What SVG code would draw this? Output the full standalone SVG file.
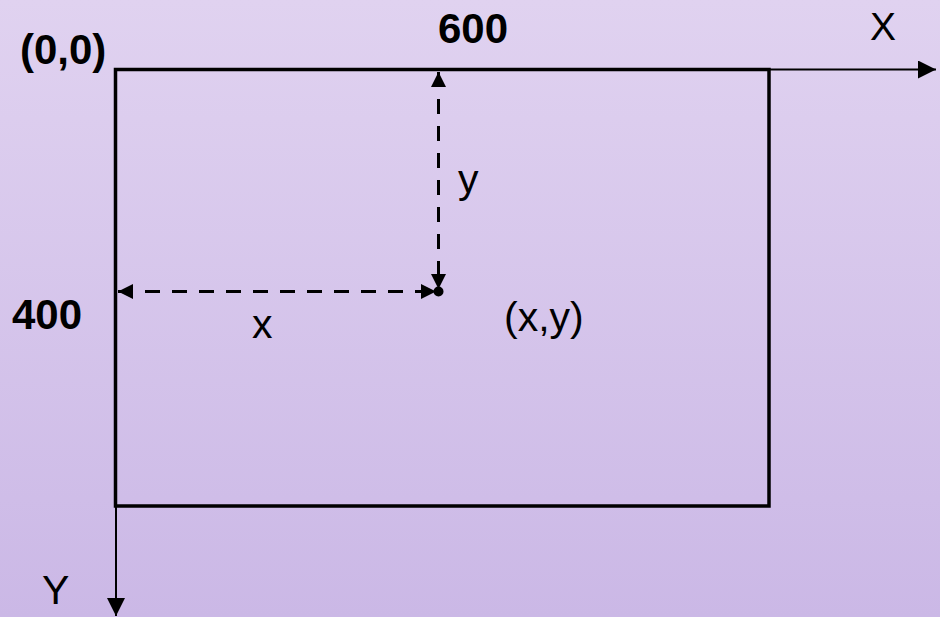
<svg xmlns="http://www.w3.org/2000/svg" width="940" height="617" viewBox="0 0 940 617">
<defs>
<linearGradient id="bg" x1="0" y1="0" x2="0" y2="1">
<stop offset="0" stop-color="#e0d2f0"/>
<stop offset="1" stop-color="#cbb8e6"/>
</linearGradient>
<marker id="ah" viewBox="0 0 10 10" refX="10" refY="5" markerWidth="5" markerHeight="5" orient="auto-start-reverse" markerUnits="strokeWidth">
<path d="M0,0 L10,5 L0,10 z" fill="#000"/>
</marker>
<marker id="ahT" viewBox="0 0 10 10" refX="10" refY="5" markerWidth="10" markerHeight="9" orient="auto-start-reverse" markerUnits="strokeWidth">
<path d="M0,0 L10,5 L0,10 z" fill="#000"/>
</marker>
</defs>
<style>
text{font-family:"Liberation Sans",Arial,sans-serif;fill:#000}
.b{font-weight:bold;font-size:42px}
.n{font-size:41px}
.axis{stroke:#000;stroke-width:2;fill:none}
.dash{stroke:#000;stroke-width:3;fill:none;stroke-dasharray:15 12}
</style>
<rect width="940" height="617" fill="url(#bg)"/>
<g id="canvas">
<rect x="115.5" y="69.5" width="653.5" height="436.5" fill="none" stroke="#000" stroke-width="3.5"/>
</g>
<g id="connectors">
<line class="axis" x1="769" y1="69.5" x2="936" y2="69.5" marker-end="url(#ahT)"/>
<line class="axis" x1="116" y1="506" x2="116" y2="616" marker-end="url(#ahT)"/>
<line class="dash" x1="118" y1="291.5" x2="436" y2="291.5" marker-start="url(#ah)" marker-end="url(#ah)"/>
<line class="dash" x1="438.5" y1="72" x2="438.5" y2="289" marker-start="url(#ah)" marker-end="url(#ah)"/>
</g>
<g id="point">
<circle cx="438.5" cy="291.5" r="5" fill="#000"/>
</g>
<g id="labels">
<text class="b" x="20" y="64">(0,0)</text>
<text class="b" x="438" y="43">600</text>
<text class="n" x="870" y="40" style="font-size:39px">X</text>
<text class="b" x="12" y="329">400</text>
<text class="n" x="252" y="338">x</text>
<text class="n" x="458" y="193">y</text>
<text class="n" x="504" y="331">(x,y)</text>
<text class="n" x="42" y="604">Y</text>
</g>
</svg>
